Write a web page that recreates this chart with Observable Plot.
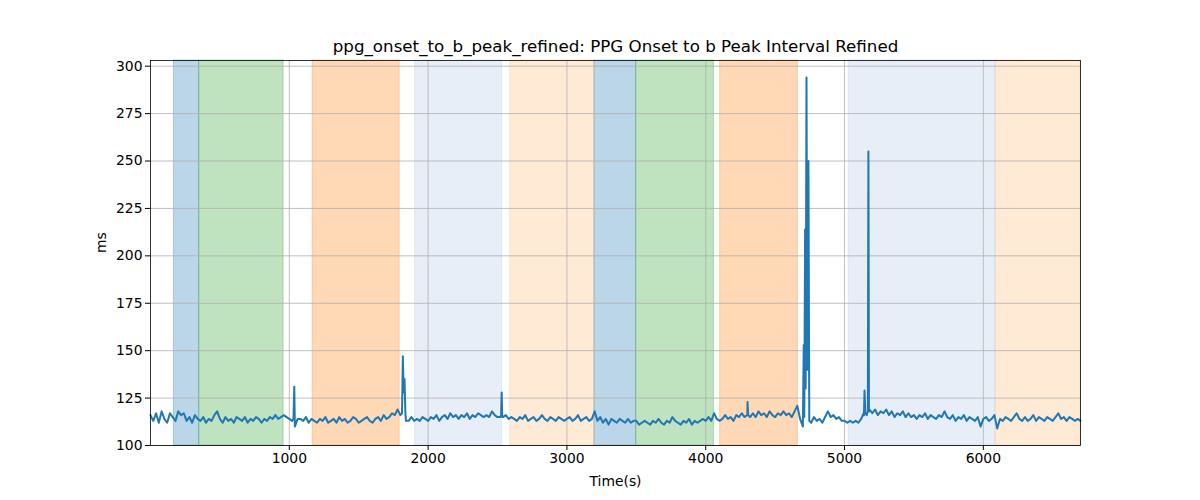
<!DOCTYPE html>
<html>
<head>
<meta charset="utf-8">
<script src="https://cdn.jsdelivr.net/npm/d3@7"></script>
<script src="https://cdn.jsdelivr.net/npm/@observablehq/plot@0.6"></script>
<style>
  html, body { margin: 0; padding: 0; background: #fff; }
  #chart { width: 1200px; height: 500px; }
</style>
</head>
<body>
<div id="chart"></div>
<script>
const titleText = "ppg_onset_to_b_peak_refined: PPG Onset to b Peak Interval Refined";
const xLabel = "Time(s)";
const yLabel = "ms";
const xTicks = [1000, 2000, 3000, 4000, 5000, 6000];
const yTicks = [100, 125, 150, 175, 200, 225, 250, 275, 300];

// shaded phases
const bandStart = [169, 351, 1168, 1906, 2591, 3198, 3499, 4104, 5029, 6088];
const bandEnd   = [351, 959, 1795, 2533, 3198, 3499, 4059, 4664, 6088, 6700];
const bandColor = ["#1f77b4", "#2ca02c", "#ff7f0e", "#aec7e8", "#ffbb78",
                   "#1f77b4", "#2ca02c", "#ff7f0e", "#aec7e8", "#ffbb78"];

// series sampled every 20 s from t = 0
const tStart = 0, tStep = 20;
const ms = [
  116,113,117,112,118,114,112,117,115,113,118,116,117,113,115,112,116,114,
  113,115,112,114,113,116,118,114,112,115,113,114,112,115,114,113,115,112,114,113,115,114,112,114,113,115,114,116,114,115,116,115,
  114,113,110,114,114,113,115,112,114,113,
  112,114,113,115,112,113,114,112,115,113,114,112,113,115,114,112,113,114,115,113,112,114,115,113,116,114,115,
  117,116,119,116,140,113,113,115,113,114,113,115,114,
  113,115,114,116,113,115,116,114,117,115,116,114,116,115,117,114,116,115,117,116,115,116,115,118,116,115,
  115,115,116,114,
  115,114,113,115,114,116,113,114,115,113,114,116,114,113,115,114,113,115,114,113,
  114,115,113,114,116,113,114,115,113,114,
  118,113,115,112,114,111,114,113,112,114,113,112,114,112,113,
  113,111,112,113,112,111,113,112,114,112,111,113,112,115,113,112,111,113,112,114,111,113,112,113,114,
  113,115,113,117,114,113,114,116,114,115,113,116,115,117,115,116,115,117,115,118,116,117,115,118,116,115,117,116,118,116,117,115,118,121,114,110,
  130,250,
  112,115,113,114,112,115,118,115,116,114,115,113,
  113,112,113,112,113,112,114,116,116,119,117,119,116,118,117,119,116,118,115,117,
  116,118,115,117,115,116,114,116,115,117,114,116,115,114,116,115,118,115,114,116,
  113,115,114,116,113,115,114,113,115,110,
  114,115,113,114,116,109,114,113,115,114,113,115,117,114,113,115,113,114,116,113,
  115,114,113,115,114,113,115,117,114,115,113,115,114,113,114,113
];
// extra samples at the narrow spikes
const spikeTime = [1030, 1036, 1812, 1818, 1824, 1830, 1836, 2526, 2530, 2534,
                   4296, 4301, 4306, 4706, 4710, 4716, 4726, 4732, 4746,
                   5138, 5144, 5150, 5168, 5172, 5176];
const spikeMs   = [114, 131, 117, 147, 128, 135, 118, 116, 128, 115,
                   116, 123, 116, 153, 115, 214, 294, 140, 113,
                   117, 129, 117, 118, 255, 118];

const data = ms.map((v, i) => ({t: tStart + i * tStep, v}))
  .concat(spikeTime.map((t, i) => ({t, v: spikeMs[i]})))
  .sort((a, b) => a.t - b.t);
const bands = bandStart.map((s, i) => ({s, e: bandEnd[i], c: bandColor[i]}));

const chart = Plot.plot({
  width: 1200,
  height: 500,
  marginLeft: 150,
  marginRight: 120,
  marginTop: 60,
  marginBottom: 55,
  style: {fontFamily: "DejaVu Sans, sans-serif", fontSize: "13.9px", color: "black", background: "white"},
  x: {domain: [0, 6700]},
  y: {domain: [100, 303]},
  marks: [
    Plot.rect(bands, {x1: "s", x2: "e", fill: "c", fillOpacity: 0.3, stroke: "c", strokeOpacity: 0.3, strokeWidth: 1}),
    Plot.gridX(xTicks, {stroke: "#b0b0b0", strokeOpacity: 1, strokeWidth: 0.8}),
    Plot.gridY(yTicks, {stroke: "#b0b0b0", strokeOpacity: 1, strokeWidth: 0.8}),
    Plot.line(data, {x: "t", y: "v", stroke: "#1f77b4", strokeWidth: 2}),
    Plot.frame({stroke: "black", strokeWidth: 0.8}),
    Plot.axisX({ticks: xTicks, tickSize: 5, tickPadding: 3, label: null, fontSize: 13.9, tickFormat: d => String(d)}),
    Plot.axisY({ticks: yTicks, tickSize: 5, tickPadding: 3, label: null, fontSize: 13.9, tickFormat: d => String(d)}),
    Plot.text([titleText], {text: d => d, frameAnchor: "top", dy: -14, fontSize: 16.7, lineAnchor: "middle"}),
    Plot.text([xLabel], {text: d => d, frameAnchor: "bottom", dy: 36, fontSize: 13.9, lineAnchor: "middle"}),
    Plot.text([yLabel], {text: d => d, frameAnchor: "left", dx: -49, rotate: -90, fontSize: 13.9, lineAnchor: "middle"})
  ]
});
document.getElementById("chart").appendChild(chart);
</script>
</body>
</html>
